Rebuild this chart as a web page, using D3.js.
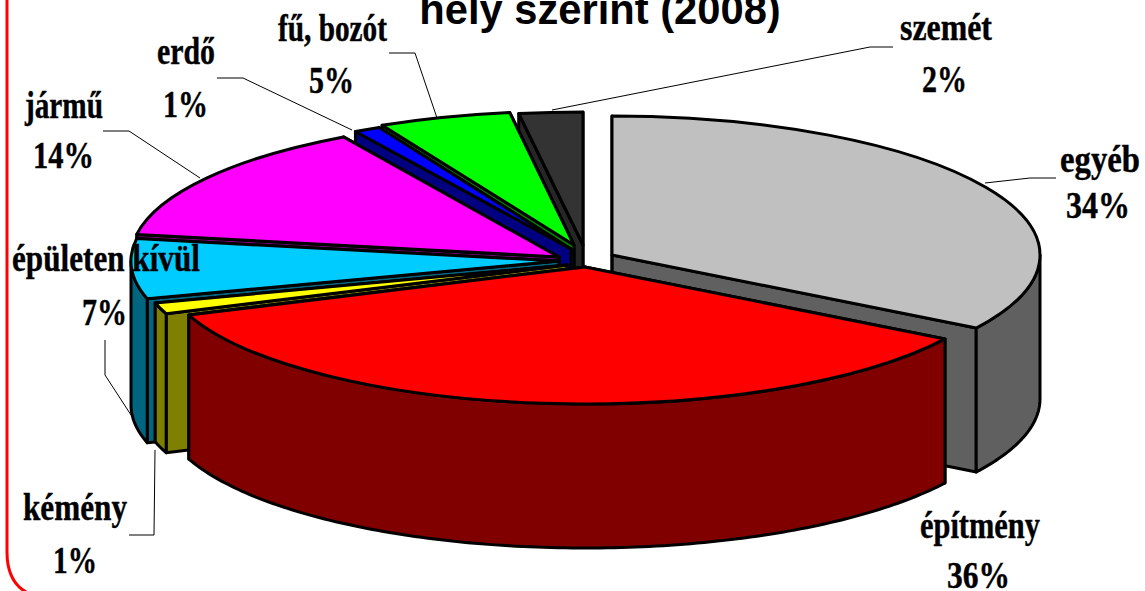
<!DOCTYPE html>
<html><head><meta charset="utf-8">
<style>html,body{margin:0;padding:0;background:#fff;overflow:hidden}svg{display:block}</style>
<script src="https://cdn.jsdelivr.net/npm/d3@7"></script>
</head><body><svg id="c" width="1145" height="591"></svg>
<script>
const categories = ["egyéb","építmény","kémény","épületen kívül","jármű","erdő","fű, bozót","szemét"];
const values = [33.8,35.5,1.3,7,14,1,5,2.4];
const topColors = ["#c0c0c0","#ff0000","#ffff00","#00ccff","#ff00ff","#0000ff","#00ff00","#333333"];
const wallColors = ["#606060","#800000","#808000","#006680","#800080","#000080","#008000","#262626"];
const titleText = "hely szerint (2008)";

// layout: apex of each exploded slice, its radii and its wall depth
const apexX = [612,585,567,559,559,571,574,583];
const apexY = [255,267,265,261,257,249,245,245];
const radiusY = [139,137,139,138,139,136,134,133];
const radiusXs = [428,423,428,428,428,428,428,428];
const depths = [144,144,139,144,144,144,144,144];
const drawOrder = [7,6,5,4,3,2,0,1];

// label layout: [x start, width, baseline] for name and percentage line
const nameBox = [[1060,80,172],[920,120,538],[23,104,520],[12,188,271],[25,78,118],[157,58,64],[278,109,41],[900,92,40]];
const pctBox  = [[1066,64,218],[947,63,588],[53,44,573],[82,45,325],[33,61,168],[163,45,117],[309,45,93],[922,45,92]];
const leaders = [
 [[985,183],[1030,178],[1056,178]],
 null,
 [[155,450],[154,535],[129,535]],
 [[131,415],[105,375],[105,340]],
 [[200,178],[129,131],[103,131]],
 [[352,130],[243,78],[217,78]],
 [[437,118],[415,53],[389,53]],
 [[552,110],[870,47],[893,47]]
];

const svg = d3.select("#c");
const pie = d3.pie().sort(null).value(d=>d)(values);
const line = d3.line();

svg.append("path")
  .attr("d","M7,-5V552Q7,584 30,594")
  .attr("fill","none").attr("stroke","#ff0000").attr("stroke-width",3);

function rim(i,a){return [apexX[i]+radiusXs[i]*Math.sin(a), apexY[i]-radiusY[i]*Math.cos(a)];}

const sty = s=>s.attr("stroke","#000").attr("stroke-width",3).attr("stroke-linejoin","round");

drawOrder.forEach(i=>{
  const p = pie[i], a0=p.startAngle, a1=p.endAngle;
  const g = svg.append("g");
  const ax=apexX[i], ay=apexY[i], depth=depths[i];
  [a1,a0].forEach(a=>{
    const r=rim(i,a);
    g.append("path").attr("d",line([[ax,ay],r,[r[0],r[1]+depth],[ax,ay+depth]])+"Z")
      .attr("fill",wallColors[i]).call(sty);
  });
  const lo=Math.max(a0,Math.PI/2), hi=Math.min(a1,Math.PI*1.5);
  if(hi>lo){
    const n=Math.max(2,Math.ceil((hi-lo)*60));
    const angs=d3.range(n+1).map(k=>lo+(hi-lo)*k/n);
    const t=angs.map(a=>rim(i,a));
    const b=angs.map(a=>rim(i,a)).reverse().map(q=>[q[0],q[1]+depth]);
    g.append("path").attr("d",line(t.concat(b))+"Z").attr("fill",wallColors[i]).call(sty);
  }
  const arc=d3.arc().innerRadius(0).outerRadius(radiusXs[i]).startAngle(a0).endAngle(a1);
  g.append("path").attr("d",arc())
    .attr("transform",`translate(${ax},${ay}) scale(1,${radiusY[i]/radiusXs[i]})`)
    .attr("vector-effect","non-scaling-stroke")
    .attr("fill",topColors[i]).call(sty);
});

leaders.forEach(l=>{ if(l) svg.append("path").attr("d",line(l)).attr("fill","none").attr("stroke","#000").attr("stroke-width",1); });

function label(txt,b){
  const t=svg.append("text").text(txt)
    .attr("font-family","'Liberation Serif',serif").attr("font-weight","bold")
    .attr("font-size",37).attr("fill","#000").attr("stroke","#000").attr("stroke-width",0.4);
  const w=t.node().getComputedTextLength();
  t.attr("transform",`translate(${b[0]},${b[2]}) scale(${b[1]/w},1)`);
}
categories.forEach((c,i)=>{ label(c,nameBox[i]); label(Math.round(values[i])+"%",pctBox[i]); });

svg.append("text").attr("x",600).attr("y",23.5).attr("text-anchor","middle").text(titleText)
  .attr("font-family","'Liberation Sans',Arial,sans-serif").attr("font-weight","bold")
  .attr("font-size",41.7).attr("fill","#000");
</script></body></html>
